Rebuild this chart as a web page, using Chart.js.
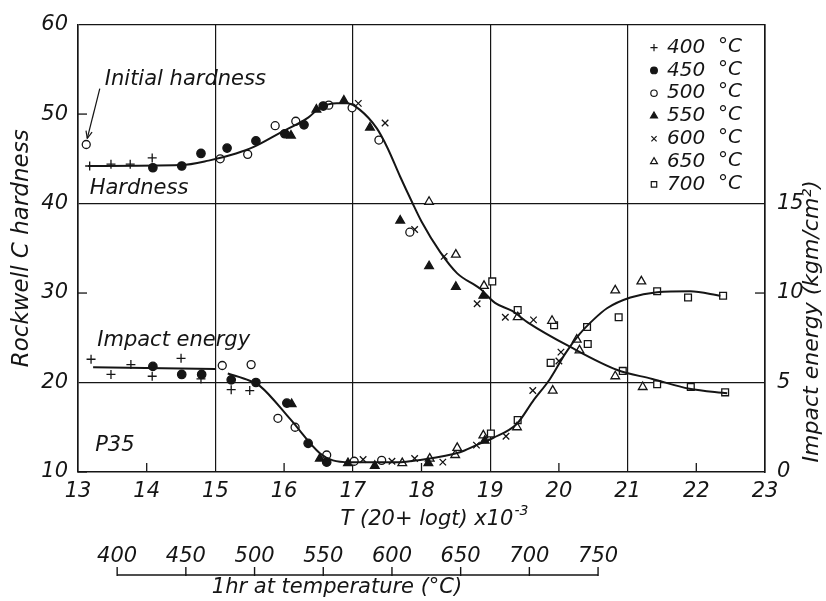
<!DOCTYPE html>
<html>
<head>
<meta charset="utf-8">
<script src="https://cdn.jsdelivr.net/npm/chart.js@4.4.1/dist/chart.umd.min.js"></script>
<style>
  html, body { margin: 0; padding: 0; background: #fff; }
  #wrap { width: 826px; height: 601px; }
</style>
</head>
<body>
<div id="wrap"><canvas id="myChart" width="826" height="601"></canvas></div>
<script>
// tempering temperatures (°C), 1 hr
const temps = [400, 450, 500, 550, 600, 650, 700];

// Rockwell C hardness  [T(20+log t)x10^-3, HRC]
const hard400 = [[13.17, 44.2], [13.48, 44.4], [13.76, 44.4], [14.08, 45.1]];
const hard450 = [[14.09, 44.0], [14.51, 44.2], [14.79, 45.6], [15.17, 46.2], [15.59, 47.0], [16.01, 47.8], [16.29, 48.8], [16.57, 50.9]];
const hard500 = [[15.07, 45.0], [15.47, 45.5], [15.87, 48.7], [16.17, 49.2], [16.65, 51.0], [16.99, 50.7], [17.38, 47.1], [17.83, 36.8]];
const hard550 = [[16.1, 47.6], [16.47, 50.5], [16.87, 51.5], [17.25, 48.5], [17.69, 38.1], [18.11, 33.0], [18.5, 30.7], [18.9, 29.7]];
const hard600 = [[17.08, 51.2], [17.47, 49.0], [17.9, 37.1], [18.33, 34.1], [18.81, 28.8], [19.22, 27.3], [19.63, 27.0]];
const hard650 = [[18.11, 40.2], [18.5, 34.3], [18.91, 30.8], [19.4, 27.3], [19.9, 26.9], [20.3, 23.6], [20.82, 20.7], [21.22, 19.5]];
const hard700 = [[19.03, 31.3], [19.4, 28.1], [19.93, 26.4], [20.42, 24.3], [20.93, 21.3], [21.43, 19.8], [21.92, 19.5], [22.42, 18.9]];
const initialHardness = [[13.12, 46.6]];

// impact energy  [T(20+log t)x10^-3, kgm/cm2]
const imp400 = [[13.19, 6.3], [13.48, 5.45], [13.77, 6.0], [14.08, 5.35], [14.5, 6.35], [14.79, 5.2], [15.23, 4.6], [15.5, 4.55]];
const imp450 = [[14.09, 5.9], [14.51, 5.45], [14.8, 5.45], [15.23, 5.15], [15.59, 5.0], [16.04, 3.85], [16.35, 1.6], [16.62, 0.55]];
const imp500 = [[15.1, 5.95], [15.52, 6.0], [15.91, 3.0], [16.16, 2.5], [16.62, 0.95], [17.02, 0.6], [17.42, 0.65]];
const imp550 = [[16.11, 3.8], [16.52, 0.75], [16.93, 0.5], [17.32, 0.35], [18.1, 0.5], [18.92, 1.75]];
const imp600 = [[17.15, 0.7], [17.57, 0.6], [17.9, 0.75], [18.31, 0.55], [18.8, 1.5], [19.23, 2.0], [19.62, 4.55], [20.0, 6.2], [20.03, 6.7]];
const imp650 = [[17.72, 0.5], [18.12, 0.75], [18.49, 0.95], [18.52, 1.35], [18.9, 2.05], [19.39, 2.5], [19.91, 4.55], [20.26, 7.4], [20.82, 10.15], [21.2, 10.65]];
const imp700 = [[19.01, 2.15], [19.4, 2.9], [19.88, 6.1], [20.41, 8.1], [20.87, 8.65], [21.43, 10.1], [21.88, 9.75], [22.39, 9.85]];

// hand drawn curves
const hardCurve = [[13.15, 44.2], [14.5, 44.3], [14.9, 44.8], [15.3, 45.6], [15.55, 46.3], [15.94, 47.9], [16.35, 49.6], [16.52, 50.7], [16.77, 51.2], [16.92, 51.2], [17.1, 50.5], [17.35, 48.4], [17.5, 46.3], [17.69, 43.0], [17.86, 40.2], [18.0, 38.0], [18.27, 34.6], [18.52, 32.2], [18.85, 30.5], [19.07, 28.9], [19.32, 28.0], [19.55, 26.7], [20.16, 24.0], [20.85, 21.4], [21.36, 20.4], [21.9, 19.3], [22.45, 18.8]];
const impactCurve = [[13.22, 5.85], [15.0, 5.75], [15.09, null], [15.18, 5.5], [15.5, 5.1], [15.65, 4.8], [16.09, 2.95], [16.52, 1.05], [16.71, 0.65], [16.96, 0.55], [17.7, 0.55], [17.93, 0.65], [18.56, 1.1], [18.8, 1.5], [19.04, 1.9], [19.39, 2.7], [19.62, 3.95], [19.87, 5.2], [20.09, 6.6], [20.3, 7.7], [20.5, 8.5], [20.7, 9.15], [21.04, 9.75], [21.43, 10.05], [21.91, 10.1], [22.35, 9.85]];

// axis ticks
const xTicks = [13, 14, 15, 16, 17, 18, 19, 20, 21, 22, 23];
const hrcTicks = [10, 20, 30, 40, 50, 60];
const impactTicks = [0, 5, 10, 15];
const tempTicks = [400, 450, 500, 550, 600, 650, 700, 750];

const hardSets = [hard400, hard450, hard500, hard550, hard600, hard650, hard700];
const impSets = [imp400, imp450, imp500, imp550, imp600, imp650, imp700];

// marker per temperature
const markStyle = ['cross', 'circle', 'circle', 'triangle', 'crossRot', 'triangle', 'rect'];
const markFilled = [false, true, false, true, false, false, false];
const markSize = [4.5, 4.2, 4, 5, 4.6, 5, 4.8];

const INK = '#151515';
const FONT = '"DejaVu Sans", sans-serif';

function toPts(arr) {
	return arr.map(p => ({x: p[0], y: p[1]}));
}

function markerSet(arr, i, axis) {
	return {
		data: toPts(arr),
		yAxisID: axis,
		showLine: false,
		pointStyle: markStyle[i],
		pointRadius: markSize[i],
		pointHoverRadius: markSize[i],
		pointBorderColor: INK,
		pointBackgroundColor: markFilled[i] ? INK : '#fff',
		pointBorderWidth: 1.3
	};
}

let datasets = [];
datasets.push({
	data: toPts(hardCurve), yAxisID: 'y', showLine: true, pointRadius: 0,
	borderColor: INK, borderWidth: 2, cubicInterpolationMode: 'monotone'
});
datasets.push({
	data: toPts(impactCurve), yAxisID: 'y2', showLine: true, pointRadius: 0, spanGaps: false,
	borderColor: INK, borderWidth: 2, cubicInterpolationMode: 'monotone'
});
hardSets.forEach((s, i) => datasets.push(markerSet(s, i, 'y')));
impSets.forEach((s, i) => datasets.push(markerSet(s, i, 'y2')));
datasets.push(markerSet(initialHardness, 2, 'y'));

// 1 hr tempering temperature -> parameter value on the x scale
function tempToParam(c) {
	return (c + 273) * 0.02 + 0.11;
}

function line(ctx, x1, y1, x2, y2) {
	ctx.beginPath();
	ctx.moveTo(x1, y1);
	ctx.lineTo(x2, y2);
	ctx.stroke();
}

const decor = {
	id: 'decor',
	afterDraw(chart) {
		const {ctx, chartArea: a, scales} = chart;
		const x = scales.x, y = scales.y, y2 = scales.y2;
		ctx.save();
		ctx.strokeStyle = INK;
		ctx.fillStyle = INK;
		ctx.lineWidth = 1.3;

		// short inner ticks where there is no grid line
		xTicks.filter(v => v % 2 === 0).forEach(v => {
			const px = x.getPixelForValue(v);
			line(ctx, px, a.bottom, px, a.bottom - 9);
		});
		hrcTicks.filter(v => v % 20 !== 0).forEach(v => {
			const py = y.getPixelForValue(v);
			line(ctx, a.left, py, a.left + 9, py);
		});
		impactTicks.filter(v => v % 10 === 0 && v > 0).forEach(v => {
			const py = y2.getPixelForValue(v);
			line(ctx, a.right, py, a.right - 10, py);
		});

		ctx.font = 'italic 21px ' + FONT;
		ctx.textBaseline = 'middle';
		ctx.textAlign = 'left';

		// labels inside the plot
		ctx.fillText('Initial hardness', x.getPixelForValue(13.39), y.getPixelForValue(53.85));
		ctx.fillText('Hardness', x.getPixelForValue(13.17), y.getPixelForValue(41.7));
		ctx.fillText('Impact energy', x.getPixelForValue(13.28), y.getPixelForValue(24.7));
		ctx.fillText('P35', x.getPixelForValue(13.25), y.getPixelForValue(12.95));

		// arrow to the initial hardness point
		const tipX = x.getPixelForValue(initialHardness[0][0]) + 1;
		const tipY = y.getPixelForValue(initialHardness[0][1]) - 6;
		const sx = x.getPixelForValue(13.39) - 5, sy = y.getPixelForValue(53.85) + 9;
		ctx.lineWidth = 1.2;
		line(ctx, sx, sy, tipX, tipY);
		const ang = Math.atan2(tipY - sy, tipX - sx);
		line(ctx, tipX, tipY, tipX - 8 * Math.cos(ang - 0.4), tipY - 8 * Math.sin(ang - 0.4));
		line(ctx, tipX, tipY, tipX - 8 * Math.cos(ang + 0.4), tipY - 8 * Math.sin(ang + 0.4));

		// legend
		const lx = a.right - 111;
		temps.forEach((t, i) => {
			const ly = a.top + 23 + i * 22.8;
			ctx.lineWidth = 1.2;
			ctx.strokeStyle = INK;
			ctx.fillStyle = markFilled[i] ? INK : '#fff';
			Chart.helpers.drawPoint(ctx, {
				pointStyle: markStyle[i], radius: markSize[i] * 0.8, rotation: 0, borderWidth: 1.2
			}, lx, ly);
			ctx.fillStyle = INK;
			ctx.font = 'italic 20px ' + FONT;
			ctx.fillText(String(t), lx + 13, ly);
			ctx.fillText('°C', a.right - 47, ly - 1);
		});

		// x axis title
		ctx.font = 'italic 21px ' + FONT;
		ctx.textAlign = 'left';
		const xt = 'T (20+ logt) x10';
		const xtW = ctx.measureText(xt).width;
		const xtX = 436 - (xtW + 18) / 2;
		ctx.fillText(xt, xtX, a.bottom + 48);
		ctx.font = 'italic 14px ' + FONT;
		ctx.fillText('-3', xtX + xtW + 1, a.bottom + 39);

		// right axis title
		ctx.save();
		ctx.font = 'italic 22px ' + FONT;
		ctx.textAlign = 'center';
		ctx.translate(a.right + 47, (a.top + a.bottom) / 2 + 73);
		ctx.rotate(-Math.PI / 2);
		ctx.fillText('Impact energy (kgm/cm²)', 0, 0);
		ctx.restore();

		// secondary scale: 1 hr at temperature
		const ty = a.bottom + 103;
		const t0 = x.getPixelForValue(tempToParam(tempTicks[0]));
		const t1 = x.getPixelForValue(tempToParam(tempTicks[tempTicks.length - 1]));
		ctx.lineWidth = 1.4;
		line(ctx, t0, ty, t1, ty);
		ctx.font = 'italic 21px ' + FONT;
		ctx.textAlign = 'center';
		tempTicks.forEach(c => {
			const px = x.getPixelForValue(tempToParam(c));
			line(ctx, px, ty + 1, px, ty - 8);
			ctx.fillText(String(c), px, ty - 18);
		});
		ctx.fillText('1hr at temperature (°C)', x.getPixelForValue(tempToParam(560)), ty + 13);
		ctx.restore();
	}
};

const tickFont = {family: FONT, size: 21, style: 'italic'};

const config = {
	type: 'scatter',
	data: {datasets: datasets},
	options: {
		responsive: false,
		animation: false,
		layout: {padding: {top: 17, left: 0, right: 0, bottom: 0}},
		scales: {
			x: {
				type: 'linear',
				min: 13, max: 23,
				afterBuildTicks: axis => { axis.ticks = xTicks.map(v => ({value: v})); },
				afterFit: scale => { scale.height = 129; },
				grid: {
					drawTicks: false,
					color: c => (c.tick && c.tick.value % 2 === 1) ? INK : 'transparent',
					lineWidth: 1.2
				},
				border: {display: true, color: INK, width: 1.6},
				ticks: {color: INK, font: tickFont, padding: 7, maxRotation: 0}
			},
			y: {
				type: 'linear',
				position: 'left',
				min: 10, max: 60,
				afterBuildTicks: axis => { axis.ticks = hrcTicks.map(v => ({value: v})); },
				afterFit: scale => { scale.width = 78; },
				grid: {
					drawTicks: false,
					color: c => (c.tick && c.tick.value % 20 === 0) ? INK : 'transparent',
					lineWidth: 1.2
				},
				border: {display: true, color: INK, width: 1.6},
				ticks: {color: INK, font: tickFont, padding: 10},
				title: {
					display: true,
					text: 'Rockwell C hardness',
					color: INK,
					font: {family: FONT, size: 23, style: 'italic'},
					padding: {top: 8, bottom: 0}
				}
			},
			y2: {
				type: 'linear',
				position: 'right',
				min: 0, max: 25,
				afterBuildTicks: axis => { axis.ticks = impactTicks.map(v => ({value: v})); },
				afterFit: scale => { scale.width = 61; },
				grid: {display: false, drawTicks: false},
				border: {display: true, color: INK, width: 1.6},
				ticks: {color: INK, font: tickFont, padding: 12}
			}
		},
		plugins: {
			legend: {display: false},
			tooltip: {enabled: false}
		}
	},
	plugins: [decor]
};

let myChart = new Chart(document.getElementById('myChart'), config);
</script>
</body>
</html>
